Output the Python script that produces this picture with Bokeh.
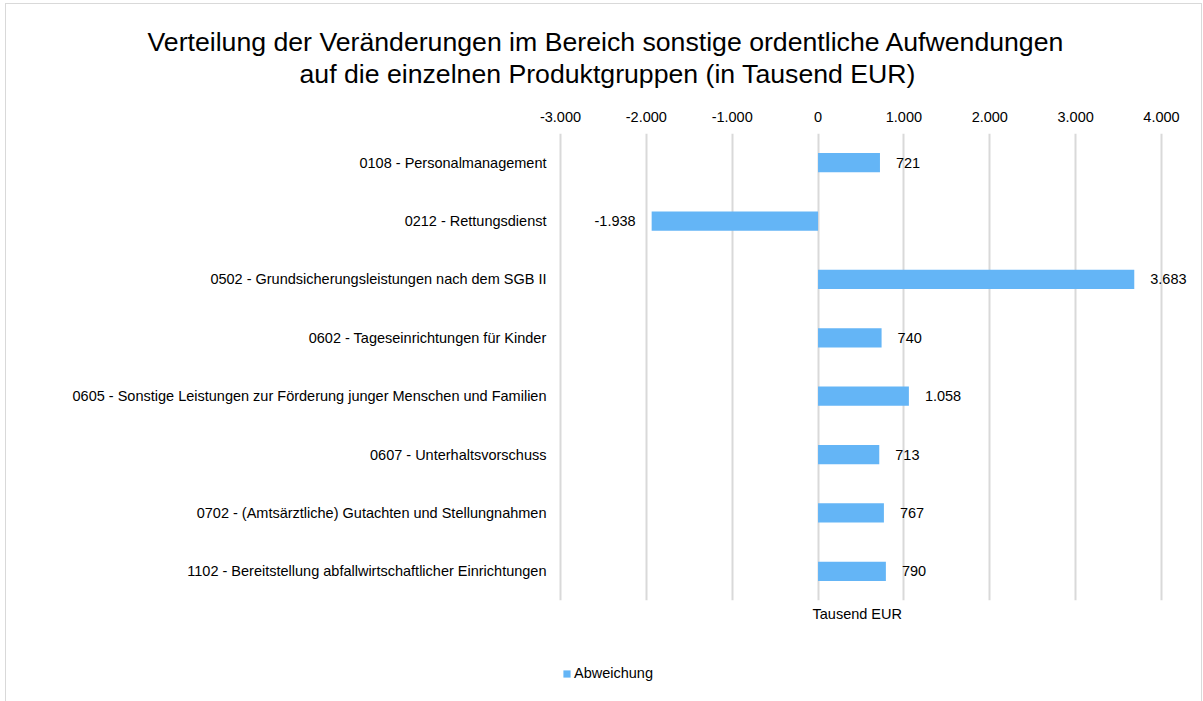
from bokeh.plotting import figure
from bokeh.layouts import column
from bokeh.models import (ColumnDataSource, FactorRange, Range1d, LinearAxis, FixedTicker,
                          Title, Legend, LegendItem)
from bokeh.core.properties import value
from bokeh.embed import file_html
from bokeh.resources import INLINE

categories = [
    "0108 - Personalmanagement",
    "0212 - Rettungsdienst",
    "0502 - Grundsicherungsleistungen nach dem SGB II",
    "0602 - Tageseinrichtungen für Kinder",
    "0605 - Sonstige Leistungen zur Förderung junger Menschen und Familien",
    "0607 - Unterhaltsvorschuss",
    "0702 - (Amtsärztliche) Gutachten und Stellungnahmen",
    "1102 - Bereitstellung abfallwirtschaftlicher Einrichtungen",
]
abweichung = [721, -1938, 3683, 740, 1058, 713, 767, 790]
x_ticks = [-3000, -2000, -1000, 0, 1000, 2000, 3000, 4000]
series_name = "Abweichung"
title_line1 = "Verteilung der Veränderungen im Bereich sonstige ordentliche Aufwendungen"
title_line2 = "auf die einzelnen Produktgruppen (in Tausend EUR)"
axis_title = "Tausend EUR"


def de_fmt(v):
    return f"{v:,}".replace(",", ".")


FONT = "Liberation Sans"
BLUE = "#64b5f6"
GRID = "#d9d9d9"
FS = "14.5px"
BLACK = "#000000"
W = 1195

src = ColumnDataSource(dict(
    cat=categories,
    val=abweichung,
    lbl=[de_fmt(v) for v in abweichung],
    xoff=[16 if v >= 0 else -16 for v in abweichung],
    align=["left" if v >= 0 else "right" for v in abweichung],
))

p = figure(width=W, height=624, output_backend="svg", toolbar_location=None,
           y_range=FactorRange(factors=list(reversed(categories)), range_padding=0),
           x_range=Range1d(-3023, 4466),
           x_axis_location=None,
           min_border_left=552, min_border_right=0,
           min_border_top=129, min_border_bottom=28)
p.outline_line_color = None

bars = p.hbar(y="cat", left=0, right="val", height=0.33, source=src,
              fill_color=BLUE, line_color=None)

p.text(x="val", y="cat", text="lbl", source=src, x_offset="xoff", text_align="align",
       text_baseline="middle", text_font=value(FONT), text_font_size=FS, text_color=BLACK)

# top value axis
xa = LinearAxis(ticker=FixedTicker(ticks=x_ticks),
                major_label_overrides={t: de_fmt(t) for t in x_ticks})
xa.axis_line_color = None
xa.major_tick_line_color = None
xa.minor_tick_line_color = None
xa.major_tick_out = 0
xa.major_tick_in = 0
xa.major_label_standoff = 12
xa.major_label_text_font = FONT
xa.major_label_text_font_size = FS
xa.major_label_text_color = BLACK
p.add_layout(xa, "above")

p.xgrid.ticker = FixedTicker(ticks=x_ticks)
p.xgrid.grid_line_color = GRID
p.xgrid.grid_line_width = 2
p.ygrid.grid_line_color = None

ya = p.yaxis[0]
ya.axis_line_color = None
ya.major_tick_line_color = None
ya.minor_tick_line_color = None
ya.major_tick_out = 0
ya.major_tick_in = 0
ya.major_label_standoff = 12
ya.major_label_text_font = FONT
ya.major_label_text_font_size = FS
ya.major_label_text_color = BLACK

# chart title: two lines, stacked outward from the axis
p.add_layout(Title(text=" ", text_font_size="1px", standoff=17), "above")
p.add_layout(Title(text=title_line2, align="left", offset=-259, standoff=0,
                   text_font=FONT, text_font_size="26.67px", text_font_style="normal",
                   text_color=BLACK), "above")
p.add_layout(Title(text=title_line1, align="left", offset=-411, standoff=0,
                   text_font=FONT, text_font_size="26.67px", text_font_style="normal",
                   text_color=BLACK), "above")

# axis title below
p.add_layout(Title(text=axis_title, align="left", offset=254, standoff=7, text_font=FONT,
                   text_font_size=FS, text_font_style="normal", text_color=BLACK), "below")

# legend strip
pl = figure(width=W, height=73, output_backend="svg", toolbar_location=None,
            x_range=p.x_range, y_range=p.y_range,
            min_border_left=0, min_border_right=0, min_border_top=0, min_border_bottom=0)
pl.axis.visible = False
pl.grid.visible = False
pl.outline_line_color = None
leg_bars = pl.hbar(y="cat", left=0, right="val", height=0.33, source=src,
                   fill_color=BLUE, line_color=None, visible=False)
lg = Legend(items=[LegendItem(label=series_name, renderers=[leg_bars])], location=(4, 20))
lg.border_line_color = None
lg.background_fill_alpha = 0
lg.padding = 0
lg.margin = 0
lg.glyph_width = 9
lg.glyph_height = 9
lg.label_standoff = 3
lg.label_text_font = FONT
lg.label_text_font_size = FS
lg.label_text_color = BLACK
pl.add_layout(lg, "center")

layout = column(p, pl, spacing=0,
                styles={"border": "1px solid #d9d9d9", "margin-left": "5px", "margin-top": "3px"})

open("out.html", "w").write(file_html(layout, INLINE))
